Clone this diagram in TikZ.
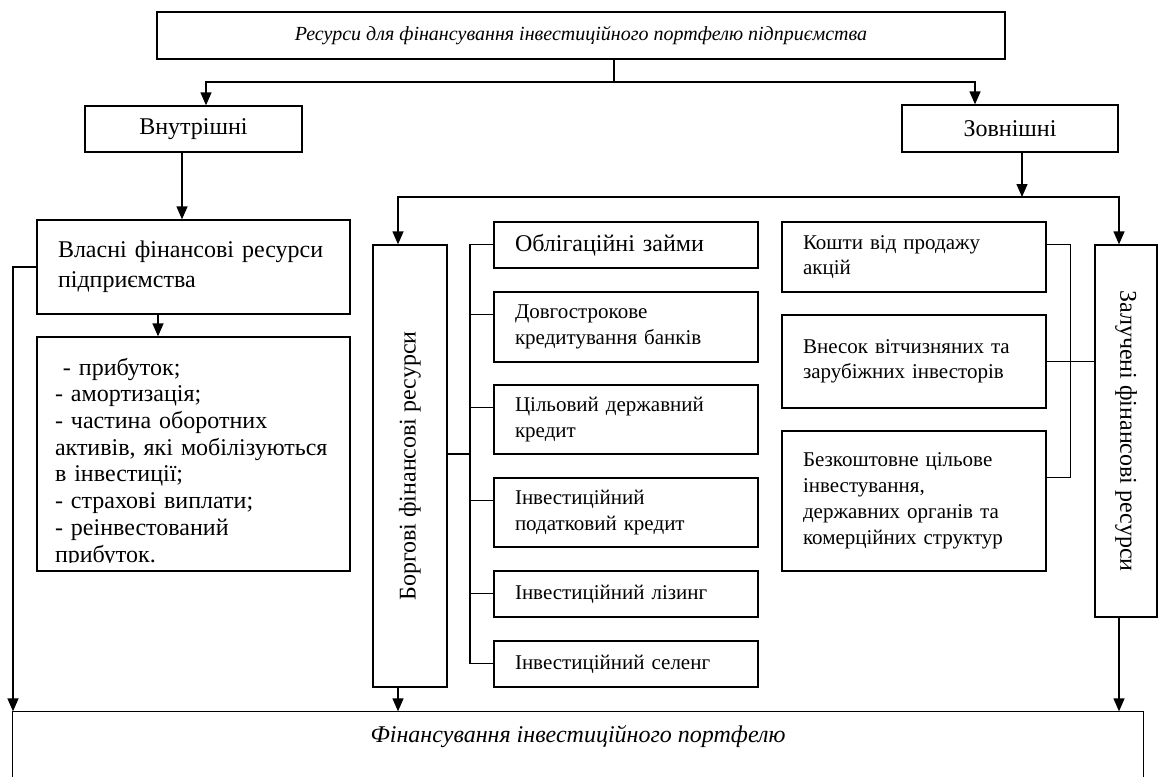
\documentclass[tikz,border=0pt]{standalone}
\usepackage{fontspec}
\setmainfont{Liberation Serif}
\usetikzlibrary{arrows.meta}
\newcommand\headtxt{\fontsize{20}{24}\selectfont\itshape}
\newcommand\basetxt{\fontsize{24}{28}\selectfont\itshape}
\newcommand\bigtxt{\fontsize{24}{30}\selectfont}
\newcommand\smalltxt{\fontsize{21}{25.5}\selectfont}
\newcommand\listtxt{\fontsize{24}{26.7}\selectfont}
\tikzset{
  box/.style={draw, line width=1.3pt, rectangle, inner sep=0pt},
  item/.style={box, text width=222pt, inner xsep=21pt, align=left, font=\smalltxt},
}
\begin{document}
\begin{tikzpicture}[x=1pt, y=-1pt, line width=1.3pt, >={Triangle[length=13pt,width=11pt]}]
        \useasboundingbox (0,0) rectangle (1158,776);
        \clip (0,0) rectangle (1158,776);
        % top level
        \node[box, minimum width=848pt, minimum height=47pt, font=\headtxt] (title) at (581,35.5) {Ресурси для фінансування інвестиційного портфелю підприємства};
        \node[box, minimum width=217pt, minimum height=46pt, font=\bigtxt] (intern) at (193.5,129) {Внутрішні};
        \node[box, minimum width=216pt, minimum height=47pt, font=\bigtxt] (extern) at (1010,128.5) {Зовнішні};
        % internal resources
        \node[box, minimum width=313pt, minimum height=94pt, text width=271pt, inner xsep=21pt, align=left, font=\bigtxt] (own) at (193.5,267) {Власні фінансові ресурси\\підприємства};
        \node[box, minimum width=313pt, minimum height=234pt] (list) at (193.5,454) {};
        \begin{scope}
        \clip (list.north west) rectangle ([yshift=9pt]list.south east);
        \node[anchor=north west, inner sep=0pt, text width=292pt, align=left, font=\listtxt] (listtext) at ([xshift=18pt,yshift=-21pt]list.north west) {\ - прибуток;\\- амортизація;\\- частина оборотних\\активів, які мобілізуються\\в інвестиції;\\- страхові виплати;\\- реінвестований\\прибуток.};
        \end{scope}
        % borrowed resources
        \node[box, minimum width=74pt, minimum height=442pt, font=\bigtxt] (debt) at (410,466) {\rotatebox{90}{Боргові фінансові ресурси}};
        \node[item, minimum height=46pt, font=\bigtxt] (b1) at (626,245) {Облігаційні займи};
        \node[item, minimum height=70pt] (b2) at (626,327) {Довгострокове\\кредитування банків};
        \node[item, minimum height=69pt] (b3) at (626,419.5) {Цільовий державний\\кредит};
        \node[item, minimum height=69pt] (b4) at (626,512.5) {Інвестиційний\\податковий кредит};
        \node[item, minimum height=46pt] (b5) at (626,594) {Інвестиційний лізинг};
        \node[item, minimum height=46pt] (b6) at (626,664) {Інвестиційний селенг};
        % attracted resources
        \node[item, minimum height=70pt] (c1) at (914,257) {Кошти від продажу\\акцій};
        \node[item, minimum height=93pt] (c2) at (914,361.5) {Внесок вітчизняних та\\зарубіжних інвесторів};
        \node[item, minimum height=140pt, font=\fontsize{21}{26}\selectfont] (c3) at (914,501) {Безкоштовне цільове\\інвестування,\\державних органів та\\комерційних структур};
        \node[box, minimum width=62pt, minimum height=372pt, font=\bigtxt] (attr) at (1126,431) {\rotatebox{-90}{Залучені фінансові ресурси}};
        % result
        \node[minimum width=1130pt, minimum height=50pt, inner sep=0pt, font=\basetxt] (fin) at (578,737) {Фінансування інвестиційного портфелю};
        \draw ([yshift=-60pt]fin.south west) -- (fin.north west) -- (fin.north east) -- ([yshift=-60pt]fin.south east);
        % helper columns
        \coordinate (split) at (614,82);
        \coordinate (split2) at (1022,197);
        \coordinate (trunk) at (470,454);
        \coordinate (xint) at (206,0);
        \coordinate (xext) at (975,0);
        \coordinate (xown) at (182,0);
        \coordinate (xlist) at (158,0);
        \coordinate (xleft) at (13,0);
        \coordinate (xdebt) at (398,0);
        \coordinate (xattr) at (1119,0);
        \coordinate (xtrunk) at (470,0);
        % connectors
        \draw (title.south -| split) -- (split);
        \draw[->] (split) -| (xint |- intern.north);
        \draw[->] (split) -| (xext |- extern.north);
        \draw[->] (xown |- intern.south) -- (xown |- own.north);
        \draw[->] (xlist |- own.south) -- (xlist |- list.north);
        \draw[->] (own.west) -| (xleft |- fin.north);
        \draw[->] (split2 |- extern.south) -- (split2);
        \draw[->] (split2) -| (xdebt |- debt.north);
        \draw[->] (split2) -| (xattr |- attr.north);
        \draw[->] (xdebt |- debt.south) -- (xdebt |- fin.north);
        \draw[->] (xattr |- attr.south) -- (xattr |- fin.north);
        \draw (trunk -| debt.east) -- (trunk);
        \draw (xtrunk |- b1.west) -- (xtrunk |- b6.west);
        \foreach \b in {b1,b2,b3,b4,b5,b6}
            \draw ([yshift=-23pt]\b.north west) -- ++(-24,0);
        \draw ([yshift=-23pt]c1.north east) -| ([xshift=24pt,yshift=-47pt]c3.north east) -- ([yshift=-47pt]c3.north east);
        \draw (c2.east) -- (c2.east -| attr.west);
\end{tikzpicture}
\end{document}
